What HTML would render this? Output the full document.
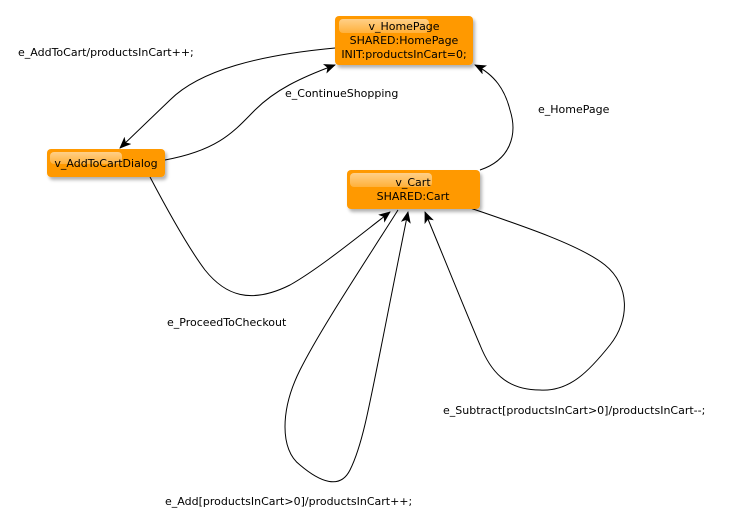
<!DOCTYPE html>
<html><head><meta charset="utf-8"><style>
html,body{margin:0;padding:0;background:#fff;}
svg text{font-family:"DejaVu Sans","Liberation Sans",sans-serif;font-size:11px;fill:#000;}
</style></head><body>
<svg width="748" height="525" viewBox="0 0 748 525" xmlns="http://www.w3.org/2000/svg">
<defs>
<marker id="a" markerWidth="12" markerHeight="10" refX="11" refY="5" orient="auto" markerUnits="userSpaceOnUse">
<path d="M0,0 L12,5 L0,10 L3,5 Z" fill="#000"/></marker>
<linearGradient id="g" x1="0" y1="0" x2="0" y2="1"><stop offset="0" stop-color="#ffd9a0"/><stop offset="1" stop-color="#ffb545"/></linearGradient>
<filter id="s" x="-10%" y="-10%" width="130%" height="140%"><feDropShadow dx="2" dy="3" stdDeviation="1.5" flood-color="#000" flood-opacity="0.3"/></filter>
</defs>
<g fill="none" stroke="#000" stroke-width="1">
<path d="M335,48 C260,55 200,70 170,100 L120,148" marker-end="url(#a)"/>
<path d="M165,160 C220,150 235,130 255,110 C275,90 300,78 335,65" marker-end="url(#a)"/>
<path d="M480,170 C510,160 518,135 510,110 C505,90 495,75 475,65" marker-end="url(#a)"/>
<path d="M150,177 C170,215 190,250 205,270 C225,295 250,305 290,285 C320,268 360,235 390,212" marker-end="url(#a)"/>
<path d="M398,210 C360,270 320,330 300,370 C280,410 280,450 300,465 C320,482 340,490 350,470 C365,440 370,400 408,212" marker-end="url(#a)"/>
<path d="M470,208 C520,225 580,245 605,265 C630,285 630,320 610,345 C590,370 570,392 540,390 C505,390 490,370 480,345 C465,310 445,260 425,212" marker-end="url(#a)"/>
</g>
<g filter="url(#s)">
<rect x="335" y="16" width="138" height="49" rx="4" fill="#ff9900"/>
<rect x="47" y="149" width="118" height="28" rx="4" fill="#ff9900"/>
<rect x="347" y="170" width="133" height="39" rx="4" fill="#ff9900"/>
</g>
<rect x="339" y="19" width="90" height="14" rx="4" fill="url(#g)" opacity="0.85"/>
<rect x="50" y="152" width="72" height="12" rx="4" fill="url(#g)" opacity="0.85"/>
<rect x="350" y="173" width="82" height="14" rx="4" fill="url(#g)" opacity="0.85"/>
<text x="404" y="30" text-anchor="middle">v_HomePage</text>
<text x="404" y="44" text-anchor="middle">SHARED:HomePage</text>
<text x="404" y="58" text-anchor="middle">INIT:productsInCart=0;</text>
<text x="106" y="167" text-anchor="middle">v_AddToCartDialog</text>
<text x="413" y="186" text-anchor="middle">v_Cart</text>
<text x="413" y="200" text-anchor="middle">SHARED:Cart</text>
<text x="18" y="56">e_AddToCart/productsInCart++;</text>
<text x="285" y="97">e_ContinueShopping</text>
<text x="538" y="113">e_HomePage</text>
<text x="167" y="326">e_ProceedToCheckout</text>
<text x="443" y="414">e_Subtract[productsInCart&gt;0]/productsInCart--;</text>
<text x="165" y="505">e_Add[productsInCart&gt;0]/productsInCart++;</text>
</svg>
</body></html>
